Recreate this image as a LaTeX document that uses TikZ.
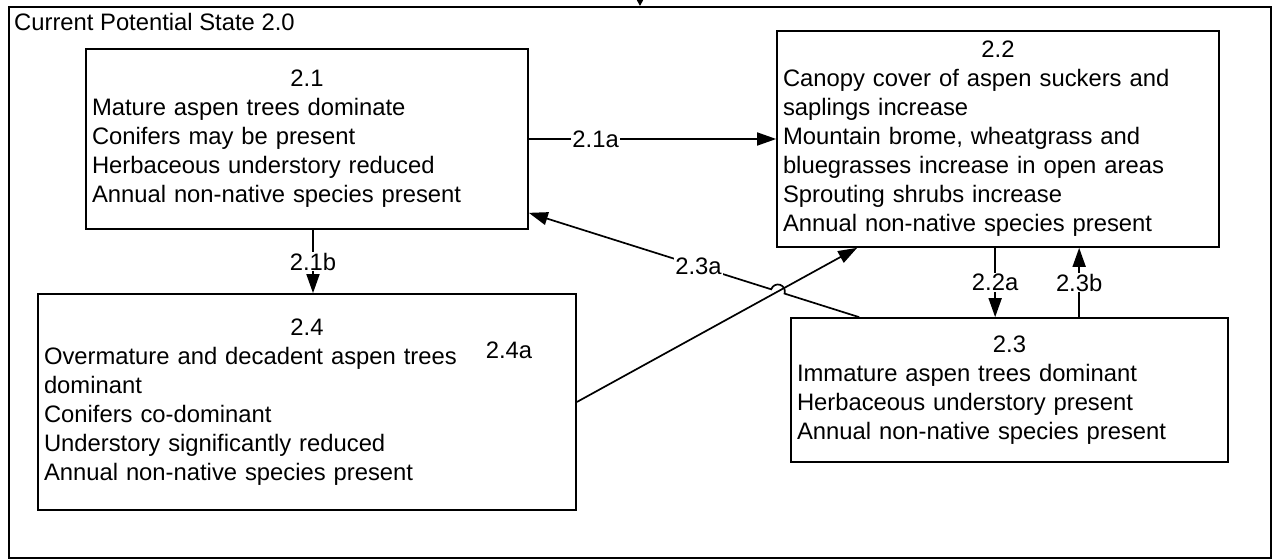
\documentclass[tikz,border=0pt]{standalone}
\usepackage{fontspec}
\setmainfont{Liberation Sans}
\usetikzlibrary{arrows.meta,calc}
\begin{document}
\begin{tikzpicture}[x=1pt,y=-1pt,
  every node/.style={font=\fontsize{23.8}{29}\selectfont},
  stbox/.style={draw, line width=1.7pt, rectangle, inner xsep=6pt, inner ysep=0pt, align=left},
  conn/.style={line width=1.7pt, -{Triangle[length=19pt,width=13pt]}},
  lbl/.style={fill=white, inner sep=1pt}]
\useasboundingbox (0,0) rectangle (1272,559);
% frame
\node[draw, line width=1.7pt, minimum width=1262pt, minimum height=551pt, inner sep=0pt, anchor=north west] (frame) at (8,6) {};
\node[anchor=base west, inner sep=0pt] (title) at (14,31) {Current Potential State 2.0};
\coordinate (topin) at (640,0);
\draw[line width=1.7pt, -{Triangle[length=6pt,width=6pt]}] (topin) -- (topin |- frame.north);
% boxes
\node[stbox, minimum width=442pt, minimum height=180pt, text width=430pt] (b21) at (307,139)
 {\makebox[430pt]{2.1}\\Mature aspen trees dominate\\Conifers may be present\\Herbaceous understory reduced\\Annual non-native species present};
\node[stbox, minimum width=442pt, minimum height=216pt, text width=430pt] (b22) at (998,139)
 {\makebox[430pt]{2.2}\\Canopy cover of aspen suckers and\\saplings increase\\Mountain brome, wheatgrass and\\bluegrasses increase in open areas\\Sprouting shrubs increase\\Annual non-native species present};
\node[stbox, minimum width=538pt, minimum height=216pt, text width=526pt] (b24) at (307,402)
 {\makebox[526pt]{2.4}\\Overmature and decadent aspen trees\\dominant\\Conifers co-dominant\\Understory significantly reduced\\Annual non-native species present};
\node[stbox, minimum width=437pt, minimum height=144pt, text width=425pt] (b23) at (1009.5,390)
 {\makebox[425pt]{2.3}\\Immature aspen trees dominant\\Herbaceous understory present\\Annual non-native species present};
% connectors
\draw[conn] (b21.east) -- node[lbl, pos=0.27] (l21a) {2.1a} (b22.west);
\coordinate (s21b) at ([xshift=6pt]b21.south);
\draw[conn] (s21b) -- node[lbl] (l21b) {2.1b} (s21b |- b24.north);
\coordinate (s22a) at ([xshift=219pt]b22.south west);
\draw[conn] (s22a) -- node[lbl] (l22a) {2.2a} (s22a |- b23.north);
\coordinate (s23b) at ([xshift=289pt]b23.north west);
\draw[conn] (s23b) -- node[lbl] (l23b) {2.3b} (s23b |- b22.south);
% 2.4a
\coordinate (p24) at (b24.east);
\coordinate (p22) at ([xshift=81pt]b22.south west);
\draw[conn] (p24) -- (p22);
\node (l24a) at (509,350) {2.4a};
% 2.3a with hop
\coordinate (p23) at ([xshift=69pt]b23.north west);
\coordinate (p21) at ([yshift=17pt]b21.south east);
\coordinate (X) at (intersection of p23--p21 and p24--p22);
\coordinate (h1) at ($(X)!7pt!(p23)$);
\draw[conn] (p23) -- (h1) arc[start angle=-17.8, end angle=162.2, radius=7pt] -- node[lbl, pos=0.3] (l23a) {2.3a} (p21);
\end{tikzpicture}
\end{document}
